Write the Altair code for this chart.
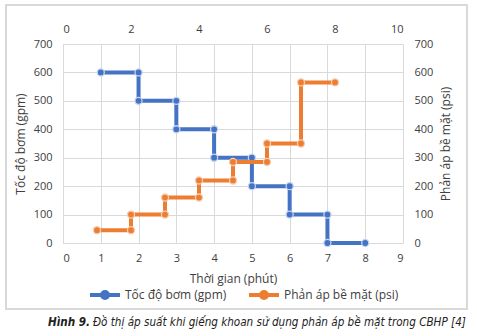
import altair as alt
import pandas as pd

# ---- data ----
pump_time = [1, 2, 2, 3, 3, 4, 4, 5, 5, 6, 6, 7, 7, 8]
pump_rate = [600, 600, 500, 500, 400, 400, 300, 300, 200, 200, 100, 100, 0, 0]
bp_time = [1, 2, 2, 3, 3, 4, 4, 5, 5, 6, 6, 7, 7, 8]
bp_psi = [45, 45, 100, 100, 160, 160, 220, 220, 285, 285, 350, 350, 565, 565]

pump_name = "Tốc độ bơm  (gpm)"
bp_name = "Phản áp bề mặt (psi)"
bottom_ticks = [0, 1, 2, 3, 4, 5, 6, 7, 8, 9]
top_ticks = [0, 2, 4, 6, 8, 10]
y_ticks = [0, 100, 200, 300, 400, 500, 600, 700]

BLUE = "#4472C4"
ORANGE = "#ED7D31"
FONT = "Open Sans"
TXT = "#404040"
GRID = "#d9d9d9"

df_pump = pd.DataFrame({"t": pump_time, "v": pump_rate,
                        "i": list(range(len(pump_time))), "s": pump_name})
df_bp = pd.DataFrame({"t": bp_time, "v": bp_psi,
                      "i": list(range(len(bp_time))), "s": bp_name})

color_scale = alt.Scale(domain=[pump_name, bp_name], range=[BLUE, ORANGE])
legend_path = "M-1,0L1,0M-0.2,0A0.2,0.2,0,1,1,0.2,0A0.2,0.2,0,1,1,-0.2,0Z"
legend = alt.Legend(title=None, orient="none", legendX=25, legendY=234,
                    direction="horizontal", symbolType=legend_path,
                    symbolSize=900, symbolStrokeWidth=4, labelFontSize=12,
                    labelColor=TXT, labelFont=FONT, columnPadding=11,
                    padding=0, labelOffset=3)

x_bottom = alt.X("t:Q", scale=alt.Scale(domain=[0, 9], nice=False),
                 axis=alt.Axis(orient="bottom", values=bottom_ticks,
                               title="Thời gian (phút)", labelPadding=9,
                               titlePadding=10))
y_left = alt.Y("v:Q", scale=alt.Scale(domain=[0, 700], nice=False),
               axis=alt.Axis(orient="left", values=y_ticks,
                             title="Tốc độ bơm (gpm)", grid=True,
                             labelPadding=11, titlePadding=6))

pump_line = alt.Chart(df_pump).mark_line(strokeWidth=4).encode(
    x=x_bottom, y=y_left, order="i:Q",
    color=alt.Color("s:N", scale=color_scale, legend=legend))
pump_pts = alt.Chart(df_pump).mark_circle(
    size=50, color=BLUE, opacity=1, stroke="#c5d3ee", strokeWidth=1.3
).encode(x=x_bottom, y=y_left)
pump_layer = alt.layer(pump_line, pump_pts)

x_top = alt.X("t:Q", scale=alt.Scale(domain=[0, 10], nice=False),
              axis=alt.Axis(orient="top", values=top_ticks, title=None,
                            labelPadding=10))
y_right = alt.Y("v:Q", scale=alt.Scale(domain=[0, 700], nice=False),
                axis=alt.Axis(orient="right", values=y_ticks,
                              title="Phản áp bề mặt (psi)", grid=False,
                              labelPadding=11, titlePadding=8,
                              titleAngle=270, titleBaseline="top"))

bp_line = alt.Chart(df_bp).mark_line(strokeWidth=4).encode(
    x=x_top, y=y_right, order="i:Q",
    color=alt.Color("s:N", scale=color_scale, legend=legend))
bp_pts = alt.Chart(df_bp).mark_circle(
    size=50, color=ORANGE, opacity=1, stroke="#f6cdb0", strokeWidth=1.3
).encode(x=x_top, y=y_right)
bp_layer = alt.layer(bp_line, bp_pts)

frame = alt.Chart(pd.DataFrame({"a": [0]})).mark_rect(
    fill="transparent", stroke=GRID, strokeWidth=2
).encode(x=alt.value(-57), x2=alt.value(404), y=alt.value(-39), y2=alt.value(265))

CAP_FONT = "Liberation Sans Narrow, DejaVu Sans Condensed, Roboto Condensed, Roboto"
cap1 = alt.Chart(pd.DataFrame({"a": [0]})).mark_text(
    text="Hình 9.", font=CAP_FONT, fontStyle="italic", fontWeight="bold",
    fontSize=11.6, align="right", baseline="middle", color="#222222"
).encode(x=alt.value(27), y=alt.value(279))
cap2 = alt.Chart(pd.DataFrame({"a": [0]})).mark_text(
    text="Đồ thị áp suất khi giếng khoan sử dụng phản áp bề mặt trong CBHP [4]",
    font=CAP_FONT, fontStyle="italic", fontSize=11.6, align="left",
    baseline="middle", color="#222222"
).encode(x=alt.value(30), y=alt.value(279))

chart = alt.layer(frame, pump_layer, bp_layer, cap1, cap2).resolve_scale(
    x="independent", y="independent"
).properties(
    width=340, height=199,
    autosize=alt.AutoSizeParams(type="none"),
    padding={"left": 63, "top": 44, "right": 74, "bottom": 93},
).configure(background="white").configure_view(stroke=None).configure_axis(
    domain=False, ticks=False, labelFont=FONT, labelFontSize=11,
    labelColor=TXT, titleFont=FONT, titleFontSize=12, titleColor=TXT,
    titleFontWeight="normal", gridColor=GRID, gridWidth=1
)

chart.save("out.html", embed_options={"renderer": "svg", "actions": False})
